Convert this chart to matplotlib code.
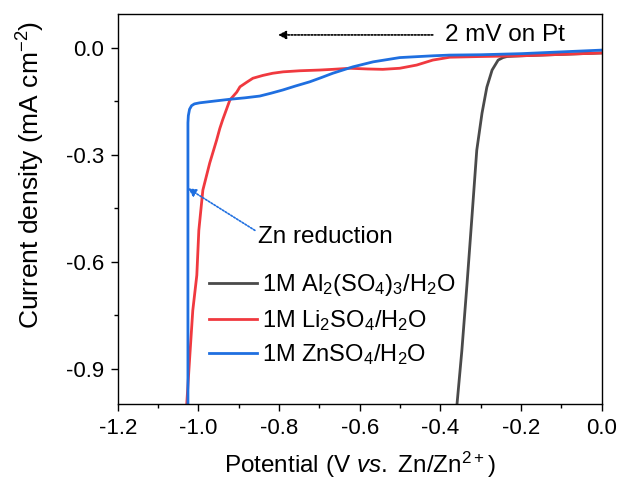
import matplotlib
matplotlib.use("Agg")
import matplotlib.pyplot as plt
from matplotlib.ticker import MultipleLocator

plt.rcParams['font.family'] = ['Liberation Sans', 'DejaVu Sans']
plt.rcParams['mathtext.fontset'] = 'custom'
plt.rcParams['mathtext.rm'] = 'Liberation Sans'
plt.rcParams['mathtext.it'] = 'Liberation Sans:italic'
plt.rcParams['mathtext.bf'] = 'Liberation Sans:bold'

# ---- data ----
al_x = [-0.359, -0.347, -0.334, -0.322, -0.310, -0.297, -0.285, -0.272, -0.257,
        -0.245, -0.235, -0.220, -0.200, -0.150, -0.100, -0.050, 0.0]
al_y = [-1.000, -0.850, -0.660, -0.475, -0.287, -0.183, -0.110, -0.062, -0.034,
        -0.027, -0.024, -0.023, -0.022, -0.020, -0.018, -0.016, -0.014]

li_x = [-1.029, -1.021, -1.014, -1.004, -0.999, -0.989, -0.972, -0.955, -0.947, -0.940,
        -0.922, -0.905, -0.897, -0.880, -0.865, -0.840, -0.816, -0.790, -0.749, -0.700,
        -0.667, -0.625, -0.580, -0.543, -0.501, -0.459, -0.419, -0.377, -0.300, -0.200,
        -0.100, 0.0]
li_y = [-1.000, -0.858, -0.737, -0.638, -0.512, -0.399, -0.323, -0.259, -0.226, -0.202,
        -0.146, -0.124, -0.109, -0.096, -0.085, -0.077, -0.071, -0.067, -0.064, -0.062,
        -0.060, -0.057, -0.059, -0.060, -0.057, -0.048, -0.034, -0.026, -0.024, -0.022,
        -0.018, -0.014]

zn_x = [-1.026, -1.026, -1.026, -1.026, -1.025, -1.022, -1.017, -1.010, -0.997, -0.960,
        -0.922, -0.885, -0.848, -0.820, -0.791, -0.760, -0.724, -0.695, -0.667, -0.617,
        -0.567, -0.501, -0.419, -0.377, -0.300, -0.200, -0.100, 0.0]
zn_y = [-1.000, -0.600, -0.300, -0.210, -0.190, -0.172, -0.162, -0.157, -0.154, -0.149,
        -0.144, -0.140, -0.135, -0.127, -0.118, -0.107, -0.095, -0.083, -0.071, -0.053,
        -0.039, -0.027, -0.022, -0.020, -0.019, -0.016, -0.011, -0.006]

series_labels = [r'1M Al$_2$(SO$_4$)$_3$/H$_2$O',
                 r'1M Li$_2$SO$_4$/H$_2$O',
                 r'1M ZnSO$_4$/H$_2$O']
colors = ['#4a4a4a', '#f0393f', '#1f6fe0']

fig = plt.figure(figsize=(6.23, 4.87), dpi=100)
ax = fig.add_axes([0.189, 0.170, 0.777, 0.801])

lw = 2.0
ax.plot(al_x, al_y, color=colors[0], lw=lw, label=series_labels[0], solid_joinstyle='round')
ax.plot(li_x, li_y, color=colors[1], lw=lw, label=series_labels[1], solid_joinstyle='round')
ax.plot(zn_x, zn_y, color=colors[2], lw=lw, label=series_labels[2], solid_joinstyle='round')

ax.set_xlim(-1.2, 0.0)
ax.set_ylim(-1.0, 0.095)
ax.xaxis.set_minor_locator(MultipleLocator(0.1))
ax.yaxis.set_minor_locator(MultipleLocator(0.15))
ax.set_xticks([-1.2, -1.0, -0.8, -0.6, -0.4, -0.2, 0.0])
ax.set_xticklabels(['-1.2', '-1.0', '-0.8', '-0.6', '-0.4', '-0.2', '0.0'])
ax.set_yticks([0.0, -0.3, -0.6, -0.9])
ax.set_yticklabels(['0.0', '-0.3', '-0.6', '-0.9'])
ax.tick_params(axis='both', which='major', direction='out', length=5, width=1.0,
               labelsize=16, top=False, right=False, pad=5)
ax.tick_params(axis='both', which='minor', direction='out', length=3, width=1.0,
               top=False, right=False)
for s in ax.spines.values():
    s.set_linewidth(1.0)

ax.set_xlabel(r'Potential (V $\mathit{vs.}$ Zn/Zn$^{2+}$)', fontsize=17.5, labelpad=8)
ax.set_ylabel(r'Current density (mA cm$^{-2}$)', fontsize=19)
ax.yaxis.set_label_coords(-0.147, 0.587)

leg = ax.legend(loc='upper left', bbox_to_anchor=(0.17, 0.362), frameon=False,
                fontsize=17, handlelength=2.0, handletextpad=0.22, labelspacing=0.4,
                borderaxespad=0.0)

# annotations
ax.annotate('', xy=(-0.803, 0.0366), xytext=(-0.419, 0.0366),
            arrowprops=dict(arrowstyle='-|>', color='black', lw=1.2, ls=(0, (1, 1)),
                            mutation_scale=12, shrinkA=0, shrinkB=0))
ax.text(-0.388, 0.0366, '2 mV on Pt', fontsize=17.5, va='center', ha='left')

ax.annotate('', xy=(-1.026, -0.394), xytext=(-0.860, -0.512),
            arrowprops=dict(arrowstyle='-|>', color=colors[2], lw=1.2, ls=(0, (1, 1)),
                            mutation_scale=12, shrinkA=0, shrinkB=0))
ax.text(-0.853, -0.531, 'Zn reduction', fontsize=17.5, va='center', ha='left')

fig.savefig('out.png', dpi=100)
